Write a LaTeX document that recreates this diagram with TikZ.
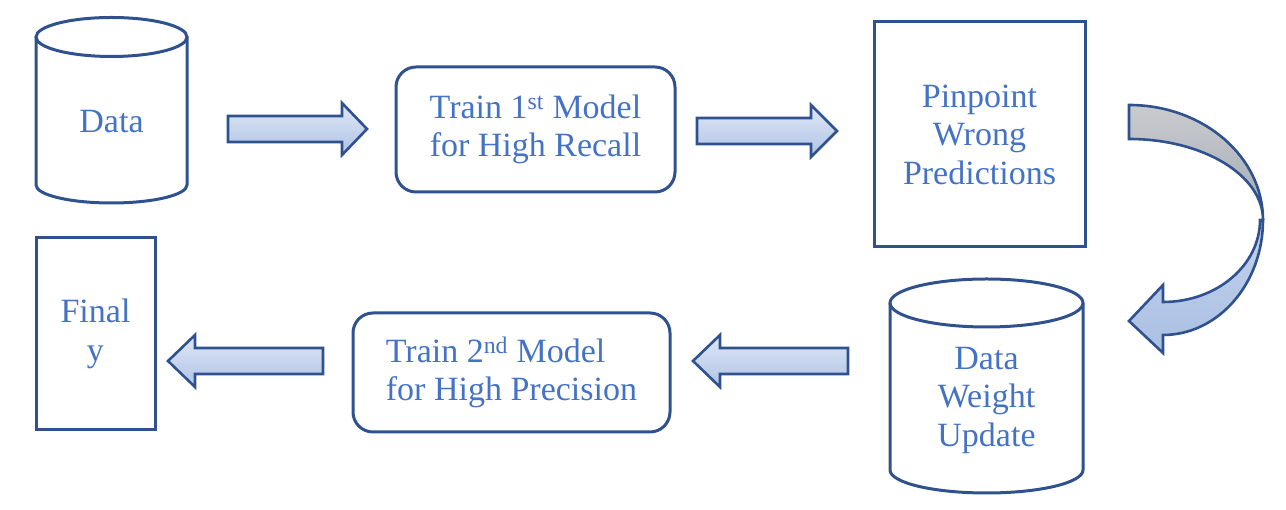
\documentclass[tikz,border=0pt]{standalone}
\usepackage{fontspec}
\setmainfont{Liberation Serif}
\usepackage{tikz}
\usetikzlibrary{positioning}
\definecolor{lineblue}{HTML}{2F528F}
\definecolor{textblue}{HTML}{4472C4}
\definecolor{arrowtop}{HTML}{DFE7F5}
\definecolor{arrowbot}{HTML}{AFC3E6}
\definecolor{graytop}{HTML}{C9CBCE}
\definecolor{graybot}{HTML}{A3A9B4}
\definecolor{curvetop}{HTML}{C3D2EC}
\definecolor{curvebot}{HTML}{AABFE3}

\begin{document}
\begin{tikzpicture}[x=1pt, y=1pt,
    txt/.style={text=textblue, align=center, font=\fontsize{34}{38.5}\selectfont, inner sep=0pt},
    box/.style={txt, draw=lineblue, line width=3pt},
    shell/.style={draw=lineblue, line width=3pt},
    blockarrow/.style={draw=lineblue, line width=2.6pt, top color=arrowtop, bottom color=arrowbot}]
    \useasboundingbox (0,0) rectangle (1286,510);
    % top row
    \draw[shell] (36,473) -- (36,325) arc[start angle=180, end angle=360, x radius=75.5, y radius=18] -- (187,473);
    \draw[shell] (111.5,473) ellipse[x radius=75.5, y radius=19.5];
    \node[txt] (data) at (111.5,388) {Data};
    \node[box, rounded corners=20pt, minimum width=279pt, minimum height=125pt] (train1) at (535.5,380.5) {Train 1\textsuperscript{st} Model\\for High Recall};
    \node[box, minimum width=211pt, minimum height=225pt] (pinpoint) at (979.5,375.5) {Pinpoint\\Wrong\\Predictions};
    \draw[blockarrow] (228,368) -- (342,368) -- (342,355) -- (367,381) -- (342,407) -- (342,394) -- (228,394) -- cycle;
    \draw[blockarrow] (697,366) -- (811,366) -- (811,353) -- (837,379) -- (811,405) -- (811,392) -- (697,392) -- cycle;
    % turn
    \draw[draw=lineblue, line width=2.6pt, top color=curvetop, bottom color=curvebot] (1263,290) arc[start angle=0, end angle=-90, x radius=100, y radius=115] -- (1163,157) -- (1129,189) -- (1163,225) -- (1163,208) arc[start angle=-90, end angle=0, x radius=97, y radius=82] -- cycle;
    \draw[draw=lineblue, line width=2.6pt, top color=graytop, bottom color=graybot] (1129,405) arc[start angle=90, end angle=0, x radius=134, y radius=115] arc[start angle=0, end angle=90, x radius=134, y radius=81] -- cycle;
    % bottom row
    \draw[shell] (890,207) -- (890,40) arc[start angle=180, end angle=360, x radius=96.5, y radius=23] -- (1083,207);
    \draw[shell] (986.5,207) ellipse[x radius=96.5, y radius=24];
    \node[txt] (update) at (986.5,110) {Data\\Weight\\Update};
    \node[box, rounded corners=20pt, minimum width=317pt, minimum height=119pt, align=left] (train2) at (511.5,137.5) {Train 2\textsuperscript{nd} Model\\for High Precision};
    \node[box, minimum width=119pt, minimum height=192pt] (final) at (95.5,176) {Final\\y};
    \draw[blockarrow] (848,136) -- (720,136) -- (720,123) -- (693,149) -- (720,175) -- (720,162) -- (848,162) -- cycle;
    \draw[blockarrow] (323,136) -- (195,136) -- (195,123) -- (168,149) -- (195,175) -- (195,162) -- (323,162) -- cycle;
\end{tikzpicture}
\end{document}
